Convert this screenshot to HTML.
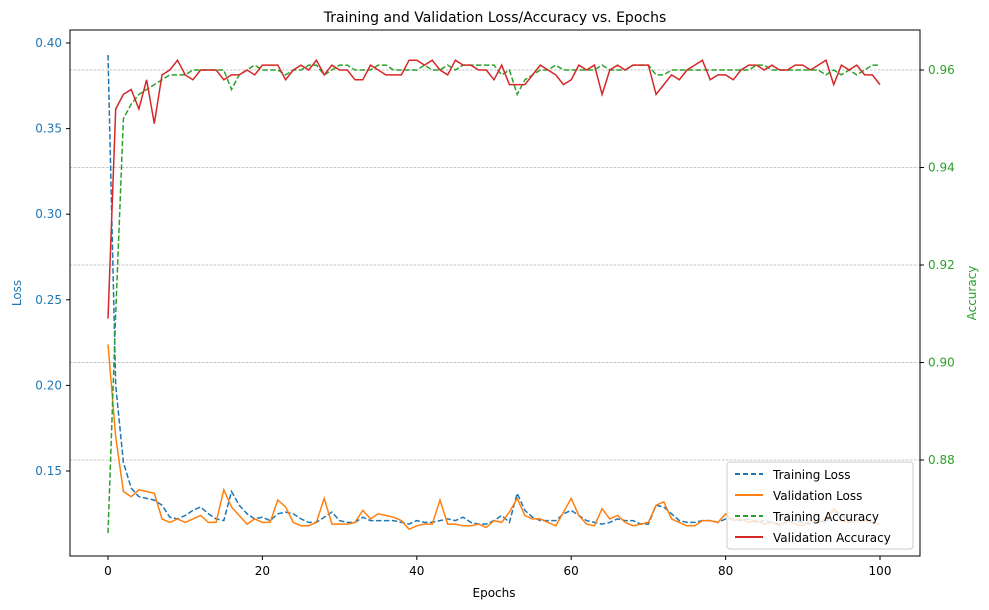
<!DOCTYPE html>
<html><head><meta charset="utf-8"><style>
body{margin:0;background:#fff;}
svg{display:block;font-family:"DejaVu Sans","Liberation Sans",sans-serif;}
</style></head><body>
<svg id="chart" width="989" height="610" viewBox="0 0 989 610">
<text x="495" y="22" text-anchor="middle" font-size="14">Training and Validation Loss/Accuracy vs. Epochs</text>
<g id="grid"></g>
<g id="series"></g>
<rect x="70" y="30" width="850" height="526" fill="none" stroke="#000" stroke-width="1"/>
<g id="axes" font-size="12"></g>
<text x="494" y="597" text-anchor="middle" font-size="12">Epochs</text>
<text transform="translate(21,293) rotate(-90)" text-anchor="middle" font-size="12" fill="#1f77b4">Loss</text>
<text transform="translate(976,293) rotate(-90)" text-anchor="middle" font-size="12" fill="#2ca02c">Accuracy</text>
<g>
<rect x="727" y="462" width="186" height="87" rx="3" fill="#fff" fill-opacity="0.8" stroke="#ccc"/>
<g><line x1="735" y1="474" x2="763" y2="474" stroke="#1f77b4" stroke-width="2" stroke-dasharray="5,3"/><text x="773" y="479" font-size="12">Training Loss</text></g>
<g><line x1="735" y1="495" x2="763" y2="495" stroke="#ff7f0e" stroke-width="2"/><text x="773" y="500" font-size="12">Validation Loss</text></g>
<g><line x1="735" y1="516" x2="763" y2="516" stroke="#2ca02c" stroke-width="2" stroke-dasharray="5,3"/><text x="773" y="521" font-size="12">Training Accuracy</text></g>
<g><line x1="735" y1="537" x2="763" y2="537" stroke="#d62728" stroke-width="2"/><text x="773" y="542" font-size="12">Validation Accuracy</text></g>
</g>
</svg>
<script>
const xTicks=[0,20,40,60,80,100];
const lossTicks=[0.15,0.20,0.25,0.30,0.35,0.40];
const lossTickLabels=["0.15","0.20","0.25","0.30","0.35","0.40"];
const accTicks=[0.88,0.90,0.92,0.94,0.96];
const accTickLabels=["0.88","0.90","0.92","0.94","0.96"];
const trainLoss=[0.393,0.200,0.155,0.140,0.135,0.134,0.133,0.130,0.123,0.122,0.124,0.127,0.129,0.125,0.122,0.121,0.138,0.130,0.125,0.122,0.123,0.121,0.125,0.126,0.125,0.122,0.120,0.120,0.123,0.126,0.121,0.120,0.120,0.123,0.121,0.121,0.121,0.121,0.120,0.119,0.121,0.120,0.120,0.121,0.122,0.121,0.123,0.120,0.119,0.119,0.121,0.124,0.120,0.137,0.127,0.123,0.121,0.121,0.121,0.125,0.127,0.124,0.121,0.120,0.119,0.120,0.122,0.121,0.121,0.119,0.119,0.130,0.129,0.125,0.121,0.120,0.120,0.121,0.121,0.120,0.122,0.122,0.121,0.122,0.120,0.121,0.120,0.119,0.120,0.121,0.120,0.119,0.121,0.120,0.128,0.124,0.121,0.121,0.122,0.120,0.119];
const valLoss=[0.224,0.170,0.138,0.135,0.139,0.138,0.137,0.122,0.120,0.122,0.120,0.122,0.124,0.120,0.120,0.139,0.129,0.124,0.119,0.122,0.120,0.120,0.133,0.129,0.120,0.118,0.118,0.120,0.134,0.119,0.119,0.119,0.120,0.127,0.122,0.125,0.124,0.123,0.121,0.116,0.118,0.119,0.119,0.133,0.119,0.119,0.118,0.118,0.119,0.117,0.121,0.120,0.126,0.134,0.124,0.122,0.122,0.120,0.118,0.126,0.134,0.124,0.119,0.118,0.128,0.122,0.124,0.120,0.118,0.119,0.120,0.130,0.132,0.122,0.120,0.118,0.118,0.121,0.121,0.120,0.125,0.121,0.122,0.120,0.121,0.119,0.120,0.118,0.121,0.119,0.118,0.121,0.120,0.122,0.128,0.121,0.120,0.121,0.121,0.120,0.119];
const trainAcc=[0.865,0.910,0.950,0.953,0.955,0.956,0.957,0.958,0.959,0.959,0.959,0.960,0.960,0.960,0.960,0.960,0.956,0.959,0.960,0.961,0.960,0.960,0.960,0.959,0.960,0.960,0.961,0.961,0.959,0.960,0.961,0.961,0.960,0.960,0.960,0.961,0.961,0.960,0.960,0.960,0.960,0.961,0.960,0.960,0.961,0.960,0.961,0.961,0.961,0.961,0.961,0.959,0.960,0.955,0.958,0.959,0.960,0.960,0.961,0.960,0.960,0.960,0.960,0.960,0.961,0.960,0.960,0.960,0.961,0.961,0.961,0.959,0.959,0.960,0.960,0.960,0.960,0.960,0.960,0.960,0.960,0.960,0.960,0.960,0.961,0.961,0.960,0.960,0.960,0.960,0.960,0.960,0.960,0.959,0.960,0.959,0.960,0.959,0.960,0.961,0.961];
const valAcc=[0.909,0.952,0.955,0.956,0.952,0.958,0.949,0.959,0.960,0.962,0.959,0.958,0.960,0.960,0.960,0.958,0.959,0.959,0.960,0.959,0.961,0.961,0.961,0.958,0.960,0.961,0.960,0.962,0.959,0.961,0.960,0.960,0.958,0.958,0.961,0.960,0.959,0.959,0.959,0.962,0.962,0.961,0.962,0.960,0.959,0.962,0.961,0.961,0.960,0.960,0.958,0.961,0.957,0.957,0.957,0.959,0.961,0.960,0.959,0.957,0.958,0.961,0.960,0.961,0.955,0.960,0.961,0.960,0.961,0.961,0.961,0.955,0.957,0.959,0.958,0.960,0.961,0.962,0.958,0.959,0.959,0.958,0.960,0.961,0.961,0.960,0.961,0.960,0.960,0.961,0.961,0.960,0.961,0.962,0.957,0.961,0.960,0.961,0.959,0.959,0.957];

const NS="http://www.w3.org/2000/svg";
const xS=e=>108+e*7.72;
const yL=v=>43+(0.40-v)*1712;
const yA=a=>70+(0.96-a)*4875;
function mk(tag,attrs,parent){const el=document.createElementNS(NS,tag);for(const k in attrs)el.setAttribute(k,attrs[k]);parent.appendChild(el);return el;}
const grid=document.getElementById('grid'),axes=document.getElementById('axes'),series=document.getElementById('series');
accTicks.forEach((a,i)=>{
  const y=yA(a);
  const g=mk('line',{x1:70,x2:920,y1:y,y2:y,stroke:'#b0b0b0','stroke-width':0.8,'stroke-dasharray':'2.5,1.5'},grid);
  
  
  mk('line',{x1:920,x2:924,y1:y,y2:y,stroke:'#000'},axes);
  const t=mk('text',{x:928,y:y+4,fill:'#2ca02c'},axes);t.textContent=accTickLabels[i];
  
  
});
lossTicks.forEach((v,i)=>{
  const y=yL(v);
  mk('line',{x1:66,x2:70,y1:y,y2:y,stroke:'#000'},axes);
  const t=mk('text',{x:62,y:y+4,fill:'#1f77b4','text-anchor':'end'},axes);t.textContent=lossTickLabels[i];
  
  
});
xTicks.forEach(e=>{
  const x=xS(e);
  mk('line',{x1:x,x2:x,y1:556,y2:560,stroke:'#000'},axes);
  const t=mk('text',{x:x,y:575,'text-anchor':'middle'},axes);t.textContent=e;
  
  
});
function line(arr,ys,color,dash,name){
  const d=arr.map((v,i)=>(i?'L':'M')+xS(i).toFixed(1)+','+ys(v).toFixed(1)).join('');
  const p=mk('path',{d:d,fill:'none',stroke:color,'stroke-width':1.5},series);
  if(dash)p.setAttribute('stroke-dasharray','5.5,2.4');
  
  
}
line(trainLoss,yL,'#1f77b4',true,'training-loss-line');
line(valLoss,yL,'#ff7f0e',false,'validation-loss-line');
line(trainAcc,yA,'#2ca02c',true,'training-accuracy-line');
line(valAcc,yA,'#d62728',false,'validation-accuracy-line');
</script>
</body></html>
